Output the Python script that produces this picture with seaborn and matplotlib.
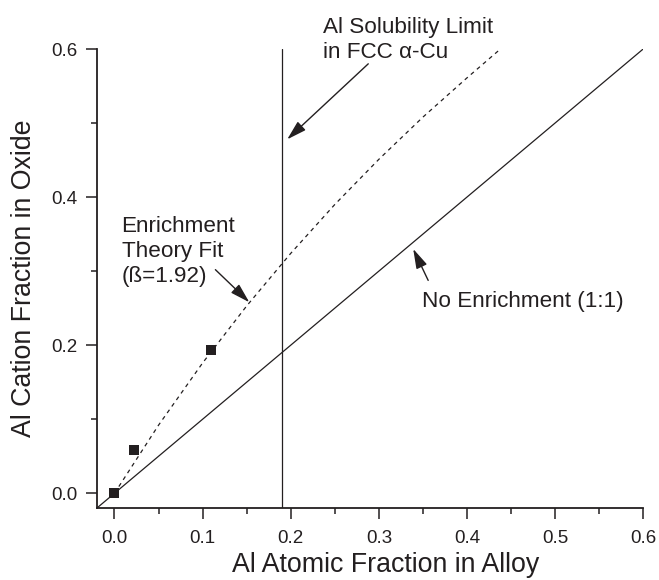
import matplotlib
matplotlib.use("Agg")
import matplotlib.pyplot as plt
import seaborn as sns
from matplotlib.ticker import MultipleLocator

# Measured alloy compositions and oxide cation fractions
alloy_al = [0.0, 0.022, 0.110]
oxide_al = [0.0, 0.058, 0.193]

# Enrichment theory fit (beta = 1.92)
fit_x = [0.0, 0.05, 0.10, 0.15, 0.20, 0.25, 0.30, 0.35, 0.40, 0.438]
fit_y = [0.0, 0.092, 0.176, 0.253, 0.324, 0.390, 0.451, 0.508, 0.561, 0.600]

# No-enrichment reference line (1:1)
ref_x = [-0.02, 0.6]
ref_y = [-0.02, 0.6]

# Al solubility limit in FCC alpha-Cu
solubility_limit = 0.19

x_ticks = [0.0, 0.1, 0.2, 0.3, 0.4, 0.5, 0.6]
y_ticks = [0.0, 0.2, 0.4, 0.6]

sns.set_style("ticks")
plt.rcParams["font.family"] = ["Liberation Sans", "DejaVu Sans"]
ink = "#231f20"

fig = plt.figure(figsize=(6.59, 5.80), dpi=100)
ax = fig.add_axes([0.147, 0.124, 0.829, 0.7915])

sns.lineplot(x=ref_x, y=ref_y, ax=ax, color=ink, lw=0.9, sort=False)
sns.lineplot(x=fit_x, y=fit_y, ax=ax, color=ink, lw=0.9, sort=False,
             linestyle=(0, (3.2, 3.2)))
ax.axvline(solubility_limit, color=ink, lw=0.9)
sns.scatterplot(x=alloy_al, y=oxide_al, ax=ax, marker="s", s=50,
                color=ink, edgecolor=ink, linewidth=0, zorder=5)

ax.set_xlim(-0.02, 0.6)
ax.set_ylim(-0.02, 0.6)
ax.set_xticks(x_ticks)
ax.set_yticks(y_ticks)
ax.set_xticklabels([f"{v:.1f}" for v in x_ticks])
ax.set_yticklabels([f"{v:.1f}" for v in y_ticks])
ax.xaxis.set_minor_locator(MultipleLocator(0.05))
ax.yaxis.set_minor_locator(MultipleLocator(0.1))
ax.tick_params(which="major", length=8, width=1.1, labelsize=13.5,
               colors=ink, pad=6)
ax.tick_params(axis="x", which="major", pad=8)
ax.tick_params(which="minor", length=4, width=1.1, colors=ink)

sns.despine(ax=ax)
for side in ("left", "bottom"):
    ax.spines[side].set_linewidth(1.3)
    ax.spines[side].set_color(ink)

ax.set_xlabel("Al Atomic Fraction in Alloy", fontsize=19.3, color=ink)
ax.set_ylabel("Al Cation Fraction in Oxide", fontsize=19.3, color=ink)
ax.xaxis.set_label_coords(0.529, -0.096)
ax.yaxis.set_label_coords(-0.110, 0.5)

arrow = dict(arrowstyle="-|>,head_length=0.75,head_width=0.22", color=ink,
             lw=1.0, mutation_scale=16, shrinkA=0, shrinkB=0)

ax.text(0.237, 0.643, "Al Solubility Limit\nin FCC \u03b1-Cu", fontsize=16.2,
        color=ink, ha="left", va="top", linespacing=1.22)
ax.annotate("", xy=(0.196, 0.478), xytext=(0.288, 0.580), arrowprops=arrow)

ax.text(0.008, 0.375, "Enrichment\nTheory Fit\n(\u00df=1.92)", fontsize=16.2,
        color=ink, ha="left", va="top", linespacing=1.26)
ax.annotate("", xy=(0.153, 0.258), xytext=(0.1145, 0.302), arrowprops=arrow)

ax.text(0.349, 0.251, "No Enrichment (1:1)", fontsize=16.2, color=ink,
        ha="left", va="baseline")
ax.annotate("", xy=(0.339, 0.330), xytext=(0.356, 0.2875), arrowprops=arrow)

fig.savefig("out.png", dpi=100)
